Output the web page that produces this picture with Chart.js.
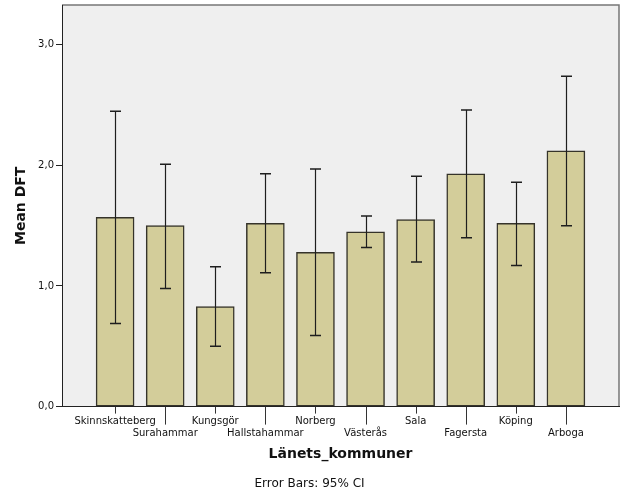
<!DOCTYPE html>
<html>
<head>
<meta charset="utf-8">
<script src="https://cdn.jsdelivr.net/npm/chart.js@4"></script>
<style>
  html, body { margin: 0; padding: 0; background: #fff; }
  #wrap { width: 626px; height: 501px; }
</style>
</head>
<body>
<div id="wrap"><canvas id="dftChart"></canvas></div>
<script>
// data
const kommuner = ['Skinnskatteberg', 'Surahammar', 'Kungsgör', 'Hallstahammar', 'Norberg',
  'Västerås', 'Sala', 'Fagersta', 'Köping', 'Arboga'];
const meanDft = [1.57, 1.50, 0.83, 1.52, 1.28, 1.45, 1.55, 1.93, 1.52, 2.12];
const ciLow = [0.69, 0.98, 0.50, 1.11, 0.59, 1.32, 1.20, 1.40, 1.17, 1.50];
const ciHigh = [2.45, 2.01, 1.16, 1.93, 1.97, 1.58, 1.91, 2.46, 1.86, 2.74];
const yTicks = [0, 1, 2, 3];

const fontFam = '"DejaVu Sans", sans-serif';

const plotBg = {
  id: 'plotBg',
  beforeDraw(chart) {
    const { ctx, chartArea: a } = chart;
    ctx.save();
    ctx.fillStyle = '#efefef';
    ctx.fillRect(a.left, a.top, a.right - a.left, a.bottom - a.top);
    ctx.strokeStyle = '#777';
    ctx.lineWidth = 1.5;
    ctx.beginPath();
    ctx.moveTo(a.left, a.top);
    ctx.lineTo(a.right, a.top);
    ctx.lineTo(a.right, a.bottom);
    ctx.stroke();
    ctx.restore();
  }
};

const errorBars = {
  id: 'errorBars',
  afterDatasetsDraw(chart) {
    const { ctx, scales: { x, y } } = chart;
    ctx.save();
    ctx.strokeStyle = '#1e1e1e';
    kommuner.forEach((k, i) => {
      const px = Math.round(x.getPixelForValue(i)) + 0.5;
      const lo = y.getPixelForValue(ciLow[i]);
      const hi = y.getPixelForValue(ciHigh[i]);
      ctx.lineWidth = 1.2;
      ctx.beginPath();
      ctx.moveTo(px, lo);
      ctx.lineTo(px, hi);
      ctx.stroke();
      ctx.lineWidth = 1.5;
      ctx.beginPath();
      ctx.moveTo(px - 5.5, hi);
      ctx.lineTo(px + 5.5, hi);
      ctx.moveTo(px - 5.5, lo);
      ctx.lineTo(px + 5.5, lo);
      ctx.stroke();
    });
    ctx.restore();
  }
};

// SPSS style staggered tick marks under the category axis
const catTicks = {
  id: 'catTicks',
  afterDraw(chart) {
    const { ctx, scales: { x } } = chart;
    ctx.save();
    ctx.strokeStyle = '#333';
    ctx.lineWidth = 1;
    kommuner.forEach((k, i) => {
      const px = Math.round(x.getPixelForValue(i)) + 0.5;
      ctx.beginPath();
      ctx.moveTo(px, x.top);
      ctx.lineTo(px, x.top + (i % 2 ? 18 : 7));
      ctx.stroke();
    });
    ctx.restore();
  }
};

const ctx = document.getElementById('dftChart').getContext('2d');
new Chart(ctx, {
  type: 'bar',
  data: {
    datasets: [{
      label: 'Mean DFT',
      data: meanDft.map((v, i) => ({ x: i, y: v })),
      backgroundColor: '#d3cd9a',
      borderColor: '#35332a',
      borderWidth: 1.5,
      borderSkipped: false,
      barThickness: 38
    }]
  },
  options: {
    responsive: true,
    maintainAspectRatio: false,
    animation: false,
    layout: { padding: { top: 5, right: 7, left: 0, bottom: 0 } },
    plugins: {
      legend: { display: false },
      tooltip: { enabled: false },
      title: {
        display: true,
        position: 'bottom',
        text: 'Error Bars: 95% CI',
        color: '#111',
        font: { family: fontFam, size: 12, weight: 'normal' },
        padding: { top: 0, bottom: 10 }
      }
    },
    scales: {
      x: {
        type: 'linear',
        offset: false,
        min: -1.06,
        max: 10.06,
        afterBuildTicks: s => { s.ticks = kommuner.map((k, i) => ({ value: i })); },
        afterFit: s => { s.height = 70; s.paddingLeft = 0; s.paddingRight = 0; },
        grid: { display: false, drawTicks: false },
        border: { display: true, color: '#222', width: 1 },
        ticks: {
          autoSkip: false,
          maxRotation: 0,
          padding: 9,
          color: '#111',
          font: { family: fontFam, size: 10 },
          callback: v => (v % 2 ? ['', kommuner[v]] : kommuner[v])
        },
        title: {
          display: true,
          text: 'Länets_kommuner',
          color: '#111',
          font: { family: fontFam, size: 14, weight: 'bold' },
          padding: { top: 0, bottom: 14 }
        }
      },
      y: {
        min: 0,
        max: 3.33,
        afterBuildTicks: s => { s.ticks = yTicks.map(v => ({ value: v })); },
        afterFit: s => { s.width = 62; s.paddingTop = 0; s.paddingBottom = 0; },
        grid: { drawOnChartArea: false, drawTicks: true, tickLength: 6, color: '#222' },
        border: { display: true, color: '#222', width: 1 },
        ticks: {
          padding: 2,
          color: '#111',
          font: { family: fontFam, size: 10 },
          callback: v => v.toFixed(1).replace('.', ',')
        },
        title: {
          display: true,
          text: 'Mean DFT',
          color: '#111',
          font: { family: fontFam, size: 14, weight: 'bold' },
          padding: { top: 13, bottom: 0 }
        }
      }
    }
  },
  plugins: [plotBg, errorBars, catTicks]
});
</script>
</body>
</html>
